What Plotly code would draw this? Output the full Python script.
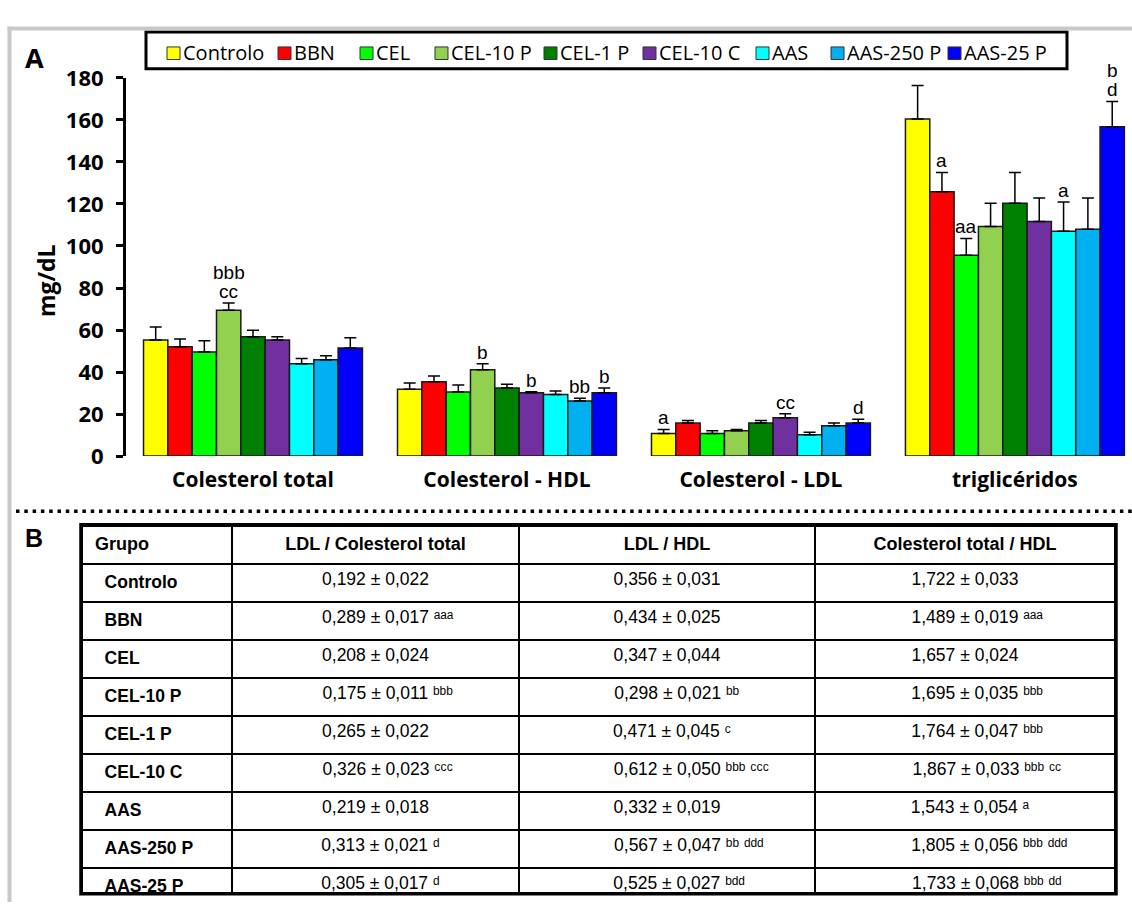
import plotly.graph_objects as go

W, H = 1132, 916

# ---- data -------------------------------------------------------------
groups = ["Controlo", "BBN", "CEL", "CEL-10 P", "CEL-1 P", "CEL-10 C",
          "AAS", "AAS-250 P", "AAS-25 P"]
colors = ["#FFFF00", "#FF0000", "#00FF00", "#92D050", "#008000",
          "#7030A0", "#00FFFF", "#00B0F0", "#0000FF"]
params = ["Colesterol total", "Colesterol - HDL", "Colesterol - LDL", "triglicéridos"]

ct_mean = [55.2, 52.0, 49.6, 69.4, 56.8, 55.2, 44.0, 45.9, 51.4]
ct_err = [6.2, 3.7, 5.3, 3.5, 3.1, 1.6, 2.4, 1.9, 4.9]
hdl_mean = [31.8, 35.4, 30.5, 41.1, 32.4, 30.1, 29.3, 26.2, 30.1]
hdl_err = [3.0, 2.7, 3.3, 2.9, 1.8, 0.5, 1.7, 1.3, 2.3]
ldl_mean = [10.7, 15.7, 10.7, 12.1, 15.7, 18.3, 10.1, 14.4, 15.7]
ldl_err = [2.0, 1.2, 1.4, 0.6, 1.3, 1.8, 1.3, 1.3, 1.8]
tg_mean = [160.4, 125.8, 95.6, 109.3, 120.3, 111.7, 107.0, 108.0, 156.7]
tg_err = [16.0, 9.2, 8.0, 11.0, 14.7, 11.1, 13.9, 14.8, 12.1]

# significance letters: (parameter index, group index, lines bottom -> top)
sig_marks = [
    (0, 3, ["cc", "bbb"]),
    (1, 3, ["b"]), (1, 5, ["b"]), (1, 7, ["bb"]), (1, 8, ["b"]),
    (2, 0, ["a"]), (2, 5, ["cc"]), (2, 8, ["d"]),
    (3, 1, ["a"]), (3, 2, ["aa"]), (3, 6, ["a"]), (3, 8, ["d", "b"]),
]

# ratio table: value and significance letters kept apart
table_header = ["Grupo", "LDL / Colesterol total", "LDL / HDL", "Colesterol total / HDL"]
ldl_ct = ["0,192 ± 0,022", "0,289 ± 0,017", "0,208 ± 0,024", "0,175 ± 0,011",
          "0,265 ± 0,022", "0,326 ± 0,023", "0,219 ± 0,018", "0,313 ± 0,021",
          "0,305 ± 0,017"]
ldl_ct_sig = ["", "aaa", "", "bbb", "", "ccc", "", "d", "d"]
ldl_hdl = ["0,356 ± 0,031", "0,434 ± 0,025", "0,347 ± 0,044", "0,298 ± 0,021",
           "0,471 ± 0,045", "0,612 ± 0,050", "0,332 ± 0,019", "0,567 ± 0,047",
           "0,525 ± 0,027"]
ldl_hdl_sig = ["", "", "", "bb", "c", "bbb ccc", "", "bb ddd", "bdd"]
ct_hdl = ["1,722 ± 0,033", "1,489 ± 0,019", "1,657 ± 0,024", "1,695 ± 0,035",
          "1,764 ± 0,047", "1,867 ± 0,033", "1,543 ± 0,054", "1,805 ± 0,056",
          "1,733 ± 0,068"]
ct_hdl_sig = ["", "aaa", "", "bbb", "bbb", "bbb cc", "a", "bbb ddd", "bbb dd"]

# ---- helpers ----------------------------------------------------------
def px(x):
    return x / W


def py(y):
    return 1 - y / H


SUP = {"a": "\u1d43", "b": "\u1d47", "c": "\u1d9c", "d": "\u1d48", " ": " "}
NB = "\u00a0"
CELL_FONT = 17.5
HEADER_FONT = 18
HEADER_H = 38
ROW_H = 38
TABLE_TOP = 527


def cell(value, sig):
    """Value with superscript letters; the left padding keeps the number centred."""
    if not sig:
        return value
    sup = "".join(SUP[ch] for ch in sig)
    space = 0.278 * CELL_FONT
    width = space + sum(space if ch == " " else 0.38 * CELL_FONT for ch in sig)
    pad = NB * int(round(width / space))
    return pad + value + " " + sup


means = [ct_mean, hdl_mean, ldl_mean, tg_mean]
errs = [ct_err, hdl_err, ldl_err, tg_err]

BARGAP = 0.138
bar_w = (1 - BARGAP) / len(groups)

fig = go.Figure()

for i, g in enumerate(groups):
    fig.add_trace(go.Bar(
        x=list(range(len(params))),
        y=[m[i] for m in means],
        name=g,
        showlegend=False,
        marker=dict(color=colors[i], line=dict(color="#1a1a1a", width=1.5)),
        error_y=dict(type="data", symmetric=False,
                     array=[e[i] for e in errs],
                     arrayminus=[0] * len(params),
                     color="black", thickness=1.5, width=6),
    ))

annotations = []

# letters above error bars
for p, gi, lines in sig_marks:
    xpos = p + (gi - (len(groups) - 1) / 2) * bar_w
    top = means[p][gi] + errs[p][gi]
    for k, txt in enumerate(lines):
        annotations.append(dict(
            x=xpos, y=top, xref="x", yref="y", text=txt, showarrow=False,
            yanchor="bottom", yshift=-1 + 19 * k,
            font=dict(family="Liberation Sans, Arial", size=19, color="black")))

# y-axis title
annotations.append(dict(
    x=px(46), y=py(274), xref="paper", yref="paper", text="mg/dL",
    textangle=-90, showarrow=False, xanchor="center", yanchor="middle",
    font=dict(family="Open Sans", size=23, color="black", weight="bold")))

# panel letters
annotations.append(dict(
    x=px(34), y=py(43), xref="paper", yref="paper", text="A", showarrow=False,
    xanchor="center", yanchor="middle",
    font=dict(family="Open Sans", size=27, color="black", weight="bold")))
annotations.append(dict(
    x=px(34), y=py(540), xref="paper", yref="paper", text="B", showarrow=False,
    xanchor="center", yanchor="middle",
    font=dict(family="Liberation Sans, Arial", size=25, color="black", weight="bold")))

shapes = []

# legend box drawn from the group list
legend_x = [167, 278, 360, 435, 544, 643, 756, 831, 948]
shapes.append(dict(type="rect", xref="paper", yref="paper",
                   x0=px(146), x1=px(1067), y0=py(54.5), y1=py(16.5),
                   line=dict(color="black", width=3), fillcolor="white"))
for xl, g, c in zip(legend_x, groups, colors):
    shapes.append(dict(type="rect", xref="paper", yref="paper",
                       x0=px(xl), x1=px(xl + 13), y0=py(45), y1=py(32),
                       line=dict(color="#333333", width=1), fillcolor=c))
    annotations.append(dict(
        x=px(xl + 14), y=py(38), xref="paper", yref="paper", text=g,
        showarrow=False, xanchor="left", yanchor="middle",
        font=dict(family="Open Sans", size=20, color="black")))

# outer grey frame
shapes.append(dict(type="line", xref="paper", yref="paper",
                   x0=px(9.5), x1=px(9.5), y0=py(11), y1=0,
                   line=dict(color="#c8c8c8", width=4)))
shapes.append(dict(type="line", xref="paper", yref="paper",
                   x0=px(7.5), x1=1, y0=py(13), y1=py(13),
                   line=dict(color="#c8c8c8", width=4)))

# dotted separator between panels
shapes.append(dict(type="line", xref="paper", yref="paper",
                   x0=px(16), x1=1, y0=py(512), y1=py(512),
                   line=dict(color="black", width=3.5, dash="3.5px,4.8px")))

# heavier outer border of the table
table_bottom = TABLE_TOP + HEADER_H + ROW_H * len(groups)
shapes.append(dict(type="rect", xref="paper", yref="paper",
                   x0=px(81), x1=px(1116), y0=py(table_bottom + 0.5), y1=py(TABLE_TOP - 1),
                   line=dict(color="black", width=3.5)))

# ---- ratio table --------------------------------------------------------
group_cells = [f"{NB * 3}<b>{g}</b>" for g in groups]
header_cells = [f"{NB}<b>{table_header[0]}</b>"] + [f"<b>{h}</b>" for h in table_header[1:]]
col2 = [cell(v, s) for v, s in zip(ldl_ct, ldl_ct_sig)]
col3 = [cell(v, s) for v, s in zip(ldl_hdl, ldl_hdl_sig)]
col4 = [cell(v, s) for v, s in zip(ct_hdl, ct_hdl_sig)]

fig.add_trace(go.Table(
    domain=dict(x=[px(82), px(1115)], y=[py(table_bottom + 1), py(TABLE_TOP)]),
    columnwidth=[150, 287, 296, 300],
    header=dict(values=header_cells, height=HEADER_H,
                align=["left", "center", "center", "center"],
                fill_color="white", line=dict(color="black", width=2),
                font=dict(family="Liberation Sans, Arial", size=HEADER_FONT, color="black")),
    cells=dict(values=[group_cells, col2, col3, col4], height=ROW_H,
               align=["left", "center", "center", "center"],
               fill_color="white", line=dict(color="black", width=2),
               font=dict(family="Liberation Sans, Arial", size=CELL_FONT, color="black")),
))

fig.update_layout(
    width=W, height=H, autosize=False,
    margin=dict(l=0, r=0, t=0, b=0),
    paper_bgcolor="white", plot_bgcolor="white",
    barmode="group", bargap=BARGAP, bargroupgap=0,
    annotations=annotations, shapes=shapes,
    xaxis=dict(domain=[px(126), 1], range=[-0.5, 3.461],
               tickvals=list(range(len(params))), ticktext=params,
               showline=False, ticks="", showgrid=False, zeroline=False,
               ticklabelstandoff=9,
               tickfont=dict(family="Open Sans", size=21, color="black", weight="bold")),
    yaxis=dict(domain=[py(455), py(64)], range=[0, 180], dtick=20,
               showline=True, linewidth=3, linecolor="black",
               ticks="outside", ticklen=7, tickwidth=3, tickcolor="black",
               ticklabelstandoff=8,
               showgrid=False, zeroline=False,
               tickfont=dict(family="Open Sans", size=22, color="black", weight="bold")),
)

fig.write_html("out.html")
